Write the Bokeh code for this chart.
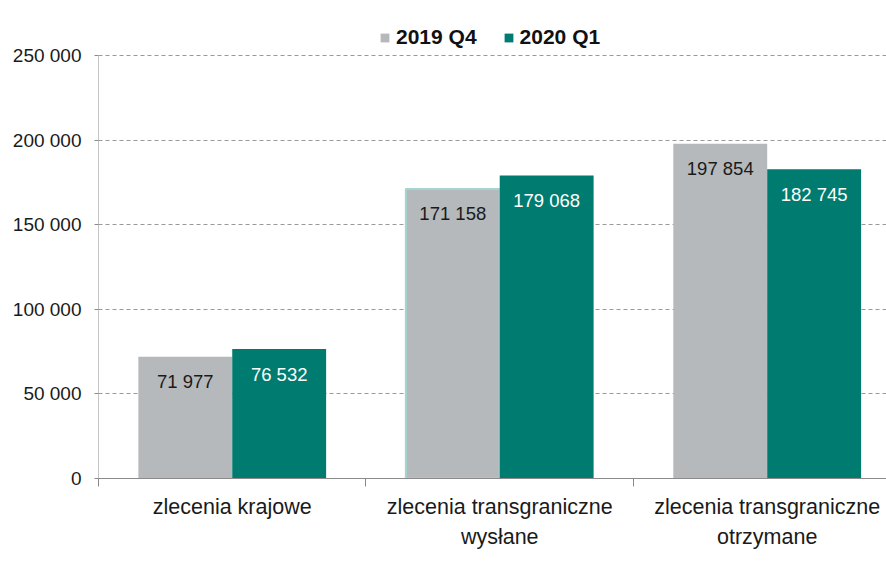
from bokeh.plotting import figure
from bokeh.models import Range1d, FixedTicker, ColumnDataSource
from bokeh.core.properties import value
from bokeh.embed import file_html
from bokeh.resources import INLINE

categories = ["zlecenia krajowe", "zlecenia transgraniczne\nwysłane", "zlecenia transgraniczne\notrzymane"]
series_names = ["2019 Q4", "2020 Q1"]
q4_2019 = [71977, 171158, 197854]
q1_2020 = [76532, 179068, 182745]
y_ticks = [0, 50000, 100000, 150000, 200000, 250000]
y_tick_labels = ["0", "50 000", "100 000", "150 000", "200 000", "250 000"]

GREY = "#b5b9bc"
TEAL = "#007b6f"
FONT = "Liberation Sans"
AXIS = "#8a8a8a"

centers = [i + 0.5 for i in range(len(categories))]
bar_w = 0.351
dodge = bar_w / 2

def fmt(v):
    return f"{v:,}".replace(",", " ")

src_a = ColumnDataSource(dict(
    x=[c - dodge for c in centers], top=q4_2019,
    lbl=[fmt(v) for v in q4_2019],
    lc=[GREY, "#a3d6ce", GREY], la=[0, 1, 0]))
src_b = ColumnDataSource(dict(
    x=[c + dodge for c in centers], top=q1_2020,
    lbl=[fmt(v) for v in q1_2020]))

# frame: 15..478 px vertically, value axis 0..250000 occupies the lower 423 px
FRAME_TOP, FRAME_H, AXIS_H = 15, 463, 423
y_end = y_ticks[-1] * FRAME_H / AXIS_H

p = figure(width=886, height=561, output_backend="svg", toolbar_location=None,
           x_range=Range1d(0, 2.946), y_range=Range1d(0, y_end),
           min_border_left=98, min_border_right=0, min_border_top=FRAME_TOP,
           min_border_bottom=561 - FRAME_TOP - FRAME_H)
p.outline_line_color = None
p.background_fill_color = "white"
p.border_fill_color = "white"

# y axis line only up to the top tick
p.segment(x0=[0], y0=[y_ticks[0]], x1=[0], y1=[y_ticks[-1]], line_color=AXIS, line_width=1)

p.vbar(x="x", top="top", width=bar_w, bottom=0, source=src_a, fill_color=GREY,
       line_color="lc", line_alpha="la", line_width=2, legend_label=series_names[0])
p.vbar(x="x", top="top", width=bar_w, bottom=0, source=src_b, fill_color=TEAL,
       line_color=None, legend_label=series_names[1])

p.text(x="x", y="top", text="lbl", source=src_a, text_align="center", text_baseline="middle",
       y_offset=25, text_font=value(FONT), text_font_size="18.5px", text_color="#1a1a1a")
p.text(x="x", y="top", text="lbl", source=src_b, text_align="center", text_baseline="middle",
       y_offset=25, text_font=value(FONT), text_font_size="18.5px", text_color="white")

# y axis
ya = p.yaxis[0]
ya.ticker = FixedTicker(ticks=y_ticks, minor_ticks=[])
ya.major_label_overrides = {t: l for t, l in zip(y_ticks, y_tick_labels)}
ya.axis_line_color = None
ya.major_tick_line_color = AXIS
ya.major_tick_out = 4
ya.major_tick_in = 0
ya.minor_tick_line_color = None
ya.major_label_standoff = 13
ya.major_label_text_font = FONT
ya.major_label_text_font_size = "19px"
ya.major_label_text_color = "#1a1a1a"

# x axis
xa = p.xaxis[0]
xa.ticker = FixedTicker(ticks=centers, minor_ticks=[0, 1, 2, 3])
xa.major_label_overrides = {c: l for c, l in zip(centers, categories)}
xa.axis_line_color = AXIS
xa.major_tick_line_color = None
xa.major_tick_out = 0
xa.major_tick_in = 0
xa.minor_tick_line_color = AXIS
xa.minor_tick_out = 8
xa.minor_tick_in = 0
xa.major_label_standoff = 8
xa.major_label_text_font = FONT
xa.major_label_text_font_size = "21.5px"
xa.major_label_text_color = "#1a1a1a"
xa.major_label_text_line_height = 1.25

# grid
p.xgrid.grid_line_color = None
p.ygrid.ticker = FixedTicker(ticks=y_ticks[1:])
p.ygrid.grid_line_color = "#9a9a9a"
p.ygrid.grid_line_dash = "4 3"
p.ygrid.grid_line_width = 1

# legend inside the (extended) frame, above the top gridline
lg = p.legend[0]
lg.orientation = "horizontal"
lg.location = (281, 429)
lg.border_line_color = None
lg.background_fill_alpha = 0
lg.padding = 0
lg.margin = 0
lg.spacing = 26
lg.glyph_width = 11
lg.glyph_height = 11
lg.label_standoff = 6
lg.label_text_font = FONT
lg.label_text_font_size = "21px"
lg.label_text_font_style = "bold"
lg.label_text_color = "#111111"

open("out.html", "w").write(file_html(p, INLINE))
